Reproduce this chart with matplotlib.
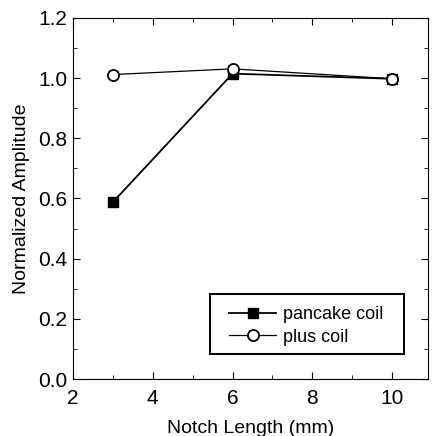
import matplotlib
matplotlib.use("Agg")
import matplotlib.pyplot as plt
from matplotlib.ticker import MultipleLocator
from matplotlib.patches import Rectangle

plt.rcParams['font.family'] = ['Liberation Sans', 'DejaVu Sans']

notch_length = [3, 6, 10]
pancake = [0.588, 1.015, 0.998]
plus = [1.012, 1.031, 0.998]

fig = plt.figure(figsize=(4.33, 4.36), dpi=100)
ax = fig.add_axes([73/433, 57/436, 355/433, 361/436])

ax.plot(notch_length, pancake, color='black', lw=1.3, marker='s', ms=7,
        mfc='black', mec='black', label='pancake coil')
ax.plot(notch_length, plus, color='black', lw=0.9, marker='o', ms=8,
        mfc='white', mec='black', mew=1.3, label='plus coil')

ax.set_xlim(2, 10.9)
ax.set_ylim(0.0, 1.2)
ax.xaxis.set_major_locator(MultipleLocator(2))
ax.xaxis.set_minor_locator(MultipleLocator(1))
ax.yaxis.set_major_locator(MultipleLocator(0.2))
ax.yaxis.set_minor_locator(MultipleLocator(0.1))
ax.yaxis.set_major_formatter(matplotlib.ticker.FormatStrFormatter('%.1f'))
ax.tick_params(which='both', direction='in', top=True, right=True, labelsize=15)
ax.tick_params(which='major', length=5)
ax.tick_params(which='minor', length=3)
ax.tick_params(axis='x', pad=7)
ax.tick_params(axis='y', pad=4)

ax.set_xlabel('Notch Length (mm)', fontsize=14, labelpad=9)
ax.set_ylabel('Normalized Amplitude', fontsize=14, labelpad=6)

# legend frame drawn separately (wider horizontal padding as in the original)
ax.add_patch(Rectangle((0.386, 0.069), 0.546, 0.166, transform=ax.transAxes,
                       fill=False, edgecolor='black', lw=1.4, zorder=5))
leg = ax.legend(loc='upper left', bbox_to_anchor=(0.44, 0.2015), fontsize=13,
                frameon=False, handlelength=2.6, borderpad=0, borderaxespad=0,
                labelspacing=0.3, handletextpad=0.4)

fig.savefig('out.png', dpi=100)
